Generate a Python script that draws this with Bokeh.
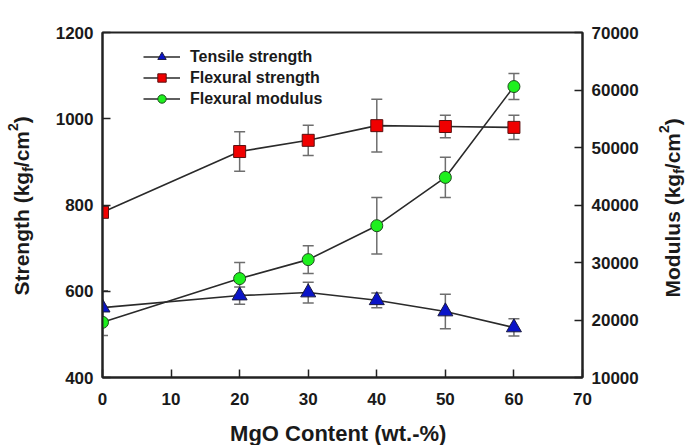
import math
from bokeh.plotting import figure
from bokeh.layouts import row, column
from bokeh.models import (Range1d, LinearAxis, ColumnDataSource, Whisker, TeeHead,
                          Label, Legend, LegendItem, FixedTicker)
from bokeh.embed import file_html
from bokeh.resources import INLINE

# ---- data ----
mgo = [0, 20, 30, 40, 50, 60]
tensile = [562, 590, 597, 579, 553, 516]
tensile_err = [39, 20, 24, 17, 40, 20]
flex_strength = [783, 924, 950, 984, 982, 980]
flex_strength_err = [8, 46, 35, 61, 26, 28]
flex_modulus = [19600, 27200, 30500, 36400, 44800, 60600]
flex_modulus_err = [2300, 2800, 2400, 4900, 3500, 2250]

x_ticks = [0, 10, 20, 30, 40, 50, 60, 70]
left_ticks = [400, 600, 800, 1000, 1200]
right_ticks = [10000, 20000, 30000, 40000, 50000, 60000, 70000]

x_title = "MgO Content (wt.-%)"
left_title = "Strength (kg"
right_title = "Modulus (kg"

FONT = "Liberation Sans"
TXT = "#1a1a1a"
W, H = 695, 445
STRIP_L, STRIP_R, STRIP_B = 40, 40, 28
MAIN_W = W - STRIP_L - STRIP_R
MAIN_H = H - STRIP_B
MID = 0.3465  # distance baseline -> em-box middle, in em


def blank(width, height):
    s = figure(width=width, height=height, x_range=Range1d(0, width), y_range=Range1d(0, height),
               output_backend="svg", toolbar_location=None, min_border=0,
               x_axis_type=None, y_axis_type=None)
    s.outline_line_color = None
    s.xgrid.visible = False
    s.ygrid.visible = False
    s.background_fill_color = "white"
    s.border_fill_color = "white"
    return s


p = figure(width=MAIN_W, height=MAIN_H, x_range=Range1d(0, 70), y_range=Range1d(400, 1200),
           output_backend="svg", toolbar_location=None,
           min_border_left=102 - STRIP_L, min_border_right=(W - STRIP_R) - 582,
           min_border_top=32, min_border_bottom=MAIN_H - 377)
p.extra_y_ranges = {"mod": Range1d(10000, 70000)}
p.xgrid.visible = False
p.ygrid.visible = False
p.outline_line_color = "#222222"
p.outline_line_width = 2
p.background_fill_color = "white"
p.border_fill_color = "white"

raxis = LinearAxis(y_range_name="mod")
p.add_layout(raxis, "right")

for ax, ticks in ((p.xaxis[0], x_ticks), (p.yaxis[0], left_ticks), (raxis, right_ticks)):
    ax.ticker = FixedTicker(ticks=ticks)
    ax.axis_line_color = "#222222"
    ax.axis_line_width = 2
    ax.major_tick_in = 8
    ax.major_tick_out = 0
    ax.major_tick_line_color = "#222222"
    ax.major_tick_line_width = 1.5
    ax.minor_tick_line_color = None
    ax.major_label_text_font = FONT
    ax.major_label_text_font_style = "bold"
    ax.major_label_text_font_size = "17px"
    ax.major_label_text_color = TXT
    ax.major_label_standoff = 9

p.xaxis.major_label_standoff = 15


def whisker(x, y, e, range_name=None):
    src = ColumnDataSource(dict(x=x, upper=[a + b for a, b in zip(y, e)],
                                lower=[a - b for a, b in zip(y, e)]))
    kw = {}
    if range_name:
        kw["y_range_name"] = range_name
    w = Whisker(base="x", upper="upper", lower="lower", source=src,
                line_color="#6e6e6e", line_width=1.5,
                upper_head=TeeHead(size=11, line_color="#6e6e6e", line_width=1.5),
                lower_head=TeeHead(size=11, line_color="#6e6e6e", line_width=1.5), **kw)
    p.add_layout(w)


whisker(mgo, tensile, tensile_err)
whisker(mgo, flex_strength, flex_strength_err)
whisker(mgo, flex_modulus, flex_modulus_err, "mod")

LINE = "#2a2a2a"
l1 = p.line(mgo, tensile, line_color=LINE, line_width=1.6)
s1 = p.scatter(mgo, tensile, marker="triangle", size=15, fill_color="#0a14c8", line_color="#1a1a40")
l2 = p.line(mgo, flex_strength, line_color=LINE, line_width=1.6)
s2 = p.scatter(mgo, flex_strength, marker="square", size=12, fill_color="#f00000", line_color="#5a1010")
l3 = p.line(mgo, flex_modulus, line_color=LINE, line_width=1.6, y_range_name="mod")
s3 = p.scatter(mgo, flex_modulus, marker="circle", size=12, fill_color="#1ef01e", line_color="#1f4a1f",
               y_range_name="mod")

legend = Legend(items=[LegendItem(label="Tensile strength", renderers=[l1, s1]),
                       LegendItem(label="Flexural strength", renderers=[l2, s2]),
                       LegendItem(label="Flexural modulus", renderers=[l3, s3])],
                location=(41, (377 - 32) - 14 - 63), border_line_color=None, background_fill_alpha=0,
                padding=0, margin=0, spacing=0, glyph_width=37, glyph_height=21,
                label_height=21, label_standoff=10, label_text_font=FONT,
                label_text_font_style="bold", label_text_font_size="16px",
                label_text_color=TXT, label_text_baseline="middle")
p.add_layout(legend)


def rotated_title(width, main, baseline_x, start_screen_y):
    s = blank(width, H)
    big, small = 21, 14
    # (text, size, baseline x, advance width)
    pieces = [(main, big, baseline_x, 0.5889 * big * 10),
              ("f", small, baseline_x + 4, 0.333 * small),
              ("/cm", big, baseline_x, 1.723 * big),
              ("2", small, baseline_x - 11, 0.556 * small),
              (")", big, baseline_x, 0.333 * big)]
    pos = H - start_screen_y
    for txt, size, bx, adv in pieces:
        s.add_layout(Label(x=bx - MID * size, y=pos + adv / 2, text=txt, angle=math.pi / 2,
                           text_font=FONT, text_font_style="bold", text_font_size=f"{size}px",
                           text_color=TXT, text_align="center", text_baseline="middle"))
        pos += adv
    return s


left = rotated_title(STRIP_L, left_title, 28, 295)
right = rotated_title(STRIP_R, right_title, 679 - (W - STRIP_R), 297)

bottom = blank(MAIN_W, STRIP_B)
x_size = 22
bottom.add_layout(Label(x=342 - STRIP_L, y=STRIP_B - (441 - MID * x_size - MAIN_H), text=x_title,
                        text_font=FONT, text_font_style="bold", text_font_size=f"{x_size}px",
                        text_color=TXT, text_align="center", text_baseline="middle"))

layout = row(left, column(p, bottom, spacing=0), right, spacing=0)
open("out.html", "w").write(file_html(layout, INLINE))
